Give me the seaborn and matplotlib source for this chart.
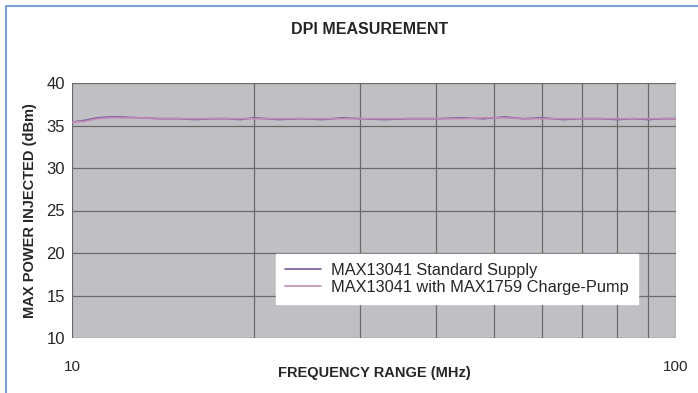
import numpy as np
import pandas as pd
import seaborn as sns
import matplotlib.pyplot as plt
from matplotlib.lines import Line2D

# data
freq = [10, 10.5, 11, 11.5, 12, 13, 14, 15, 16, 17, 18, 19, 20, 22, 24, 26, 28, 30,
        33, 36, 40, 44, 48, 52, 56, 60, 65, 70, 75, 80, 85, 90, 95, 100]
standard = [35.4, 35.6, 35.9, 36.0, 36.0, 35.9, 35.8, 35.8, 35.7, 35.8, 35.8, 35.7, 35.9,
            35.7, 35.8, 35.7, 35.9, 35.8, 35.7, 35.8, 35.8, 35.9, 35.8, 36.0, 35.8, 35.9,
            35.7, 35.8, 35.8, 35.7, 35.8, 35.7, 35.8, 35.8]
charge_pump = [35.4, 35.5, 35.8, 35.9, 35.9, 35.9, 35.8, 35.8, 35.8, 35.8, 35.8, 35.8, 35.8,
               35.8, 35.8, 35.8, 35.8, 35.8, 35.8, 35.8, 35.8, 35.8, 35.9, 35.9, 35.8, 35.8,
               35.8, 35.8, 35.8, 35.8, 35.8, 35.8, 35.8, 35.8]
labels = ['MAX13041 Standard Supply', 'MAX13041 with MAX1759 Charge-Pump']

df = pd.concat([
    pd.DataFrame({'freq': freq, 'power': standard, 'series': labels[0]}),
    pd.DataFrame({'freq': freq, 'power': charge_pump, 'series': labels[1]}),
])

sns.set_style('white')
plt.rcParams['font.family'] = ['Liberation Sans', 'DejaVu Sans']

fig = plt.figure(figsize=(6.98, 3.93), dpi=100)
ax = fig.add_axes([72/698, 1-338/393, (676-72)/698, (338-83)/393])
ax.set_facecolor('#c0c0c4')

sns.lineplot(data=df, x='freq', y='power', hue='series',
             palette=['#7a5a9a', '#c08ab8'], linewidth=1.2, ax=ax)

ax.set_xscale('log')
ax.set_xlim(10, 100)
ax.set_ylim(10, 40)
ax.set_yticks(range(10, 41, 5))
ax.set_xticks([10, 100])
ax.set_xticklabels(['10', '100'])
ax.xaxis.set_minor_locator(plt.FixedLocator(range(20, 100, 10)))
ax.xaxis.set_minor_formatter(plt.NullFormatter())
ax.grid(True, which='both', color='#6a6a6a', linewidth=0.9)
ax.tick_params(axis='x', which='both', length=0, pad=16, labelsize=11)
ax.tick_params(axis='y', length=0, pad=5, labelsize=12)
for s in ax.spines.values():
    s.set_visible(False)

ax.set_xlabel('FREQUENCY RANGE (MHz)', fontsize=10.5, fontweight='bold', labelpad=-6)
ax.set_ylabel('MAX POWER INJECTED (dBm)', fontsize=10.5, fontweight='bold', labelpad=7)
fig.text(370/698, 1-30/393, 'DPI MEASUREMENT', ha='center', va='center', fontsize=11.5,
         fontweight='bold')

leg = ax.legend(loc='lower left', bbox_to_anchor=((268-72)/604, (338-312)/255),
                frameon=True, fancybox=False, fontsize=11.8, handlelength=2.2,
                borderpad=0.55, labelspacing=0.1, handletextpad=0.6)
leg.get_frame().set_edgecolor('white')
leg.get_frame().set_facecolor('white')
leg.get_frame().set_alpha(1)

# blue frame around the picture
fig.add_artist(Line2D([6/698, 6/698], [0, 1-6/393], color='#7aa0d4', linewidth=1.5))
fig.add_artist(Line2D([6/698, 1], [1-6/393, 1-6/393], color='#7aa0d4', linewidth=1.5))

plt.savefig('out.png', dpi=100)
